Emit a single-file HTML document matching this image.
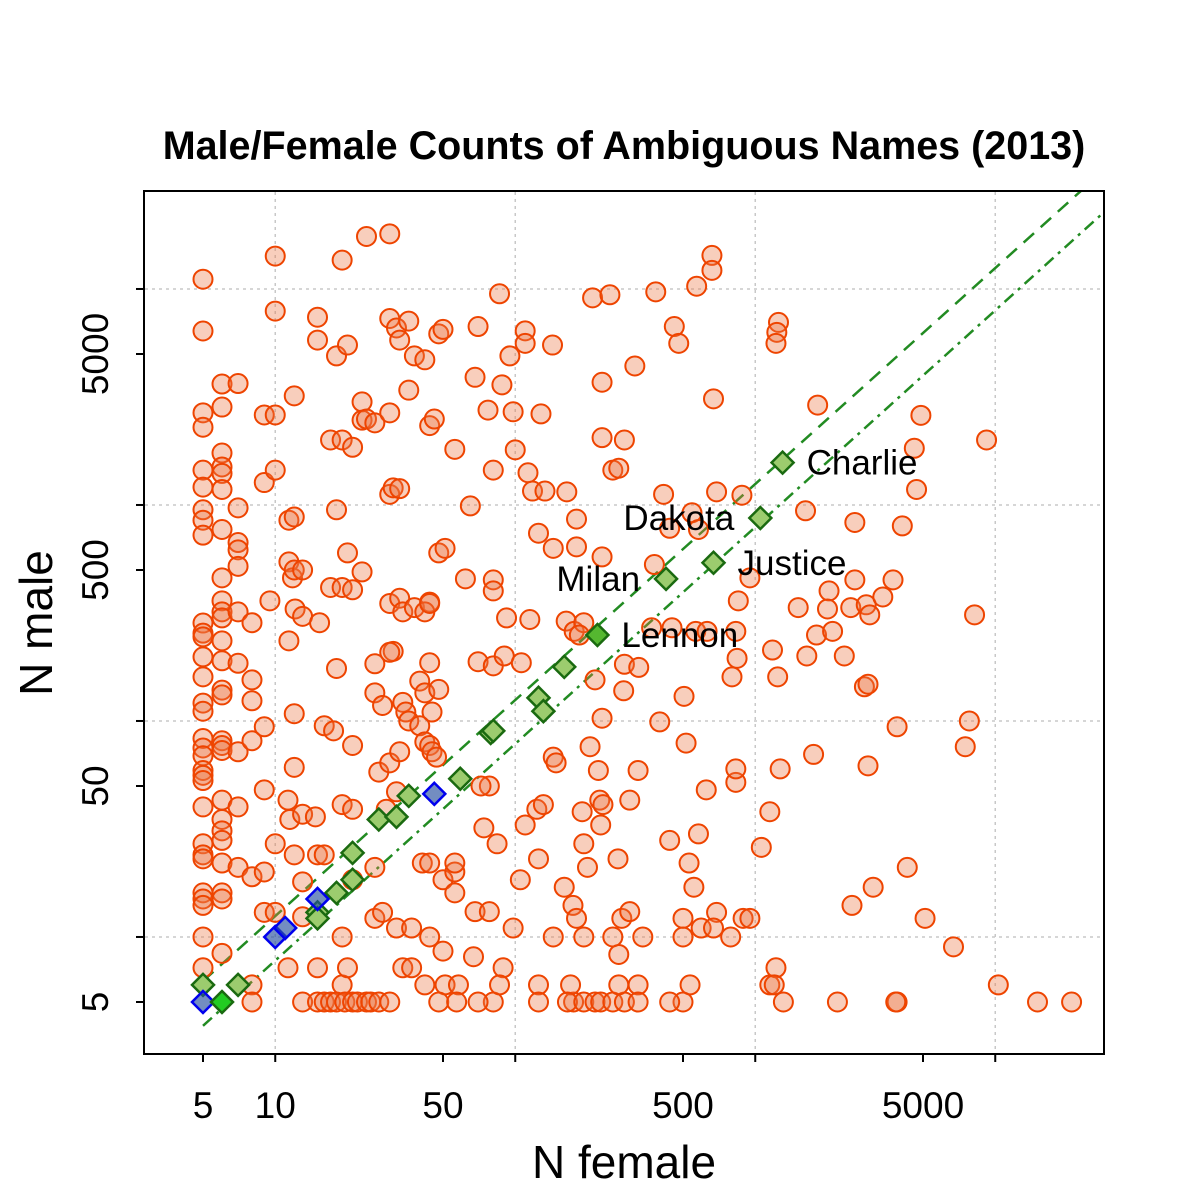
<!DOCTYPE html>
<html><head><meta charset="utf-8">
<style>
html,body{margin:0;padding:0;background:#fff;}
svg{display:block;font-family:"Liberation Sans",Helvetica,Arial,sans-serif;}
</style></head>
<body>
<svg id="chart" width="1200" height="1200" viewBox="0 0 1200 1200" xmlns="http://www.w3.org/2000/svg">
<rect width="1200" height="1200" fill="#fff"/>
<text x="624" y="159" text-anchor="middle" font-size="39.5" font-weight="bold">Male/Female Counts of Ambiguous Names (2013)</text>
<g id="grid"></g>
<defs><clipPath id="clip"><rect x="145" y="192" width="958" height="861"/></clipPath></defs>
<g id="lines" clip-path="url(#clip)"></g>
<g id="pts" clip-path="url(#clip)"></g>
<g id="labels"></g>
<rect x="144" y="191" width="960" height="863" fill="none" stroke="#000" stroke-width="2"/>
<g id="axes"></g>
<text x="624" y="1178" text-anchor="middle" font-size="46">N female</text>
<text transform="translate(52,623) rotate(-90)" text-anchor="middle" font-size="46">N male</text>
</svg>
<script>
const xTickLabels = [5, 10, 50, 500, 5000];
const xTicks = [5, 10, 50, 100, 500, 1000, 5000, 10000];
const yTicks = [5, 10, 50, 100, 500, 1000, 5000, 10000];
const yTickLabels = [5, 50, 500, 5000];
const gridX = [10, 100, 1000, 10000];
const gridY = [10, 100, 1000, 10000];
const lineRatios = [1.25, 0.8];
const circles = [
[5,11100],[5,6390],[5,2670],[5,2290],[5,1450],[5,1210],[5,950],[5,850],[5,725],[5,284],[5,255],[5,245],[5,198],[5,160],[5,121],[5,111],[5,83],[5,75],[5,69],[5,59],[5,56],[5,53],[5,40],[5,27],[5,24],[5,23],[5,16],[5,15],[5,14],[5,10],[5,7.2],
[6,3630],[6,2840],[6,1740],[6,1500],[6,1400],[6,1180],[6,770],[6,460],[6,360],[6,320],[6,300],[6,235],[6,190],[6,139],[6,132],[6,81],[6,77],[6,73],[6,43],[6,35],[6,31],[6,28],[6,22],[6,16],[6,15],[6,8.4],
[7,3650],[7,970],[7,670],[7,620],[7,520],[7,320],[7,185],[7,72],[7,40],[7,21],
[8,285],[8,155],[8,124],[8,81],[8,19],[8,6],[8,5],
[9,2610],[10,2610],[9,1270],[10,1450],[10,14200],[10,7900],[9.5,360],[9,94],[9,48],[9,20],[9,13],[10,27],[10,13],
[11.4,850],[11.4,545],[11.8,460],[11.4,235],[12,3200],[12,880],[12,500],[12.1,330],[12,108],[12,61],[11.3,43],[11.5,35],[12,24],[11.3,7.2],
[13,500],[13,305],[13,37],[13,18],[13,12.4],[13,5],
[15,7400],[15,5800],[15.3,285],[16,95],[14.7,36],[15,24],[15,7.2],[15,5],[16,5],[17,5],
[18,4900],[19,13600],[20,5500],[17,2000],[19,2000],[21,1850],[18,950],[20,600],[17,415],[19,415],[21,405],[18,175],[17.5,90],[21,77],[19,41],[21,39],[16,24],[19,10],[19,6],[18,5],[20,7.2],[19.5,5],[21,18.4],
[24,17500],[23,3000],[23,2470],[24,2500],[26,2400],[23,490],[26,184],[26,135],[28,118],[27,58],[30,64],[29,39],[26,12.2],[28,13],
[21,5],[22,5],[24,5],[25,5],[27,5],[30,5],
[30,18000],[30,7300],[30,2670],[32,6600],[33,5800],[36,7100],[38,4900],[42,4700],[36,3400],[44,2330],[46,2500],[30,1120],[31,1200],[33,1190],[30,350],[33,370],[34,320],[38,335],[44,355],[42,320],[44,350],[31,210],[30,208],[34,122],[35,110],[36,100],[40,153],[44,186],[42,135],[45,110],[48,140],[40,95],[42,80],[44,77],[45,72],[47,68],[33,72],[32,47],[26,21],[41,22],[44,22],[32,11],[37,11],[44,10],[34,7.2],[37,7.2],[42,6],[50,8.6],[51,6],[48,5],
[48,6200],[50,6500],[48,600],[51,630],[56,1810],[50,18.4],[56,20],[56,22],[56,16],[58,6],[57,5],
[62,455],[70,6700],[68,3900],[65,990],[70,188],[77,2750],[81,1450],[81,450],[81,400],[81,180],[78,50],[72,50],[74,32],[68,13.1],[78,13.1],[67,8.1],[81,5],[70,5],[89,7.2],[86,6],[84,27],
[86,9500],[95,4900],[88,3600],[98,2700],[100,1800],[113,1410],[110,6400],[110,5600],[118,1160],[115,295],[92,300],[90,200],[106,186],[110,33],[105,18.4],[98,11],[125,23],[123,39],[131,41],[128,2640],[125,740],[133,1160],[143,5500],[144,630],[144,68],[148,64],[144,10],[125,6],[125,5],[175,5],
[164,1150],[180,860],[180,640],[163,290],[176,260],[193,285],[185,250],[160,17],[174,14],[180,12.2],[190,38],[193,27],[205,76],[215,155],[222,59],[225,43],[227,33],[230,103],[232,41],[200,21],[255,10],[193,10],[170,6],[165,5],[193,5],[215,5],[227,5],[255,5],[285,5],[270,6],[270,8.3],
[210,9100],[248,9400],[230,3700],[230,2050],[255,1450],[270,1480],[285,2000],[230,575],[315,4400],[285,183],[283,138],[300,43],[268,23],[278,12.2],[300,13.1],[325,59],[327,177],[340,10],[325,6],[325,5],
[385,9700],[415,1120],[440,780],[380,530],[450,270],[370,270],[400,99],[440,28],[460,6700],[480,5600],[500,5],[440,5],[505,130],[530,22],[515,79],[555,17],[580,30],[500,12.2],[500,10],[535,6],[570,10300],[545,920],[580,770],[565,260],[595,11],[630,260],[625,48],[660,14300],[660,12200],[670,3100],[690,1150],[690,13],[670,11],[790,10],[800,160],[840,195],[830,260],[830,52],[830,60],[850,360],[880,1110],[890,12.2],[950,12.2],[950,460],[1150,6],[1220,7.2],[1200,6],[1250,7000],[1230,6300],[1220,5600],[1150,38],[1060,26],[1180,213],[1240,160],[1270,60],[1310,5],[1510,335],[1620,940],[1750,70],[1640,200],[1800,250],[1820,2900],
[2030,400],[2000,330],[2100,260],[2200,5],[2350,200],[2530,14],[2600,450],[2600,830],[2500,335],[2900,345],[2850,144],[2950,148],[3000,310],[2950,62],[3100,17],[3400,375],[3750,450],[3900,94],[3900,5],[3850,5],[4100,800],[4300,21],[4600,1830],[4700,1180],[4900,2600],[5100,12.2],[6700,9],[7500,76],[7800,100],[8200,310],[9200,2000],[10300,6],[15000,5],[20800,5]
];
const greenFemale = [5,7,15,15,18,21,21,27,32,36,59,79,81,125,131,160,425,670,1050,1300];
const greenMale   = [6,6,13,12.2,16,18.4,24.5,35,36,45,54,88,90,128,111,178,455,540,870,1570];
const blueFemale = [5,10,11,15,46];
const blueMale   = [5,10,11,15,46];
const highlightFemale = [6, 220];
const highlightMale   = [5, 250];
const labelNames = ["Charlie","Dakota","Justice","Milan","Lennon"];
const labelFemale = [1300,1050,670,425,220];
const labelMale = [1570,870,540,455,250];
const labelSide = ["right","left","right","left","right"];

const NS = "http://www.w3.org/2000/svg";
const X0 = 203, XD = 240, Y0 = 1002, YD = 216;
function sx(v){ return X0 + XD*(Math.log10(v) - Math.log10(5)); }
function sy(v){ return Y0 - YD*(Math.log10(v) - Math.log10(5)); }
function mk(tag, attrs, parent){ const e=document.createElementNS(NS,tag); for(const k in attrs) e.setAttribute(k,attrs[k]); parent.appendChild(e); return e; }

const grid = document.getElementById('grid');
gridX.forEach(v=>{
  const l = mk('line',{x1:sx(v),x2:sx(v),y1:192,y2:1053,stroke:'#c8c8c8','stroke-width':1.5,'stroke-dasharray':'3,4'},grid);
  
  
});
gridY.forEach(v=>{
  const l = mk('line',{x1:145,x2:1103,y1:sy(v),y2:sy(v),stroke:'#c8c8c8','stroke-width':1.5,'stroke-dasharray':'3,4'},grid);
  
  
});

const axes = document.getElementById('axes');
xTicks.forEach(v=>{
  const l = mk('line',{x1:sx(v),x2:sx(v),y1:1054,y2:1062,stroke:'#000','stroke-width':2},axes);
  
  
});
xTickLabels.forEach(v=>{
  const t = mk('text',{x:sx(v),y:1118,'text-anchor':'middle','font-size':37},axes);
  t.textContent = v;
  
  
});
yTicks.forEach(v=>{
  const l = mk('line',{x1:136,x2:144,y1:sy(v),y2:sy(v),stroke:'#000','stroke-width':2},axes);
  
  
});
yTickLabels.forEach(v=>{
  const t = mk('text',{transform:`translate(108,${sy(v)}) rotate(-90)`,'text-anchor':'middle','font-size':37},axes);
  t.textContent = v;
  
  
});

const lines = document.getElementById('lines');
const dashes = ['14,9','12,6,3,6'];
lineRatios.forEach((r,i)=>{
  const x1=5, x2=40000;
  const l = mk('line',{x1:sx(x1),y1:sy(x1*r*(i==1?0.97:1)),x2:sx(x2),y2:sy(x2*r),stroke:'#228b22','stroke-width':2.5,'stroke-dasharray':dashes[i]},lines);
  
  
});

const pts = document.getElementById('pts');
circles.forEach(d=>{
  const c = mk('circle',{cx:sx(d[0]),cy:sy(d[1]),r:9.5,fill:'rgba(236,120,70,0.36)',stroke:'#ee4400','stroke-width':2},pts);
  
  
});
function diamond(f,m,fill,stroke,name){
  const x=sx(f), y=sy(m), s=11;
  const p = mk('polygon',{points:`${x},${y-s} ${x+s},${y} ${x},${y+s} ${x-s},${y}`,fill:fill,stroke:stroke,'stroke-width':2.5},pts);
  
  
}
greenFemale.forEach((f,i)=>diamond(f,greenMale[i],'#9ccc6e','#1a6a10','ambiguous-name-point'));
blueFemale.forEach((f,i)=>diamond(f,blueMale[i],'rgba(40,80,160,0.65)','#0000ee','equal-count-point'));
diamond(highlightFemale[0],highlightMale[0],'#22cc22','#1a6a10','highlight-point');
diamond(highlightFemale[1],highlightMale[1],'#55b830','#1a6a10','highlight-point');

const labels = document.getElementById('labels');
labelNames.forEach((n,i)=>{
  const x = sx(labelFemale[i]), y = sy(labelMale[i]);
  const right = labelSide[i]=='right';
  const t = mk('text',{x: right ? x+24 : x-26, y: y+12,'text-anchor': right?'start':'end','font-size':35},labels);
  t.textContent = n;
  
  
});
</script>
</body></html>
